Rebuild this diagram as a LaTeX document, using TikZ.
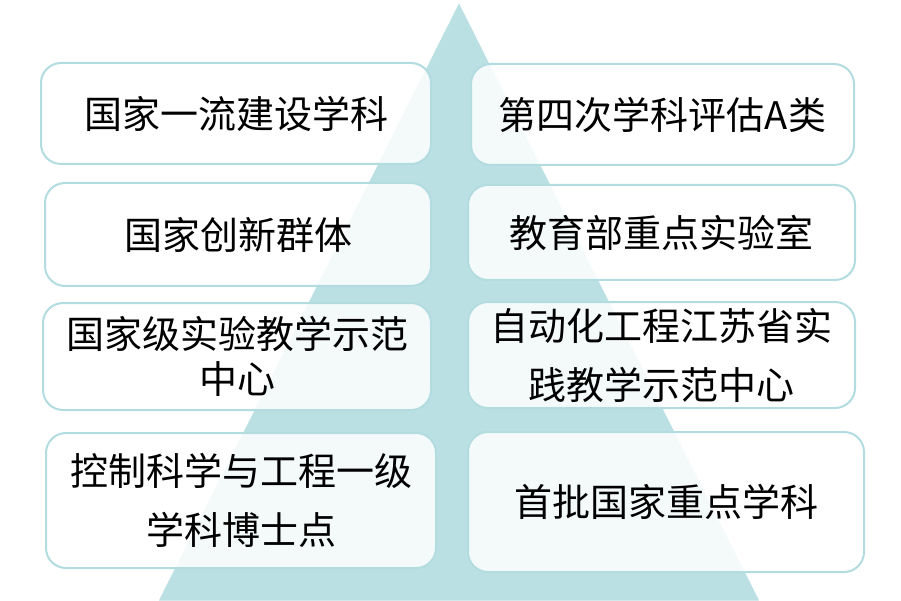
\documentclass[tikz,border=0pt]{standalone}
\usepackage{fontspec}
\newfontfamily\cjk{Noto Sans CJK SC}
\definecolor{tri}{HTML}{BAE0E3}
\definecolor{bord}{HTML}{B3DCE1}
\begin{document}
\begin{tikzpicture}[x=1pt,y=-1pt,
  card/.style={draw=bord, line width=2pt, fill=white, fill opacity=0.85, text opacity=1,
    rounded corners=20pt, inner sep=0pt, align=center, font=\cjk\fontsize{38}{45}\selectfont},
  tall/.style={font=\cjk\fontsize{38}{59}\selectfont}]
\useasboundingbox (0,0) rectangle (901,601);
\coordinate (apex) at (459,2);
\coordinate (bl) at (158,601);
\coordinate (br) at (760,601);
\draw[fill=tri, draw=white, line width=1pt] (apex) -- (bl) -- (br) -- cycle;
\node[card, minimum width=390pt, minimum height=101pt] (b1) at (236,113.5) {国家一流建设学科};
\node[card, minimum width=383pt, minimum height=101pt] (b2) at (662.5,114.5) {第四次学科评估A类};
\node[card, minimum width=386pt, minimum height=103pt] (b3) at (238,234.5) {国家创新群体};
\node[card, minimum width=387pt, minimum height=95pt] (b4) at (661.5,232.5) {教育部重点实验室};
\node[card, minimum width=388pt, minimum height=107pt] (b5) at (237,356.5) {国家级实验教学示范\\中心};
\node[card, tall, minimum width=387pt, minimum height=106pt] (b6) at (661.5,355) {自动化工程江苏省实\\践教学示范中心};
\node[card, tall, minimum width=390pt, minimum height=135pt] (b7) at (241,500.5) {控制科学与工程一级\\学科博士点};
\node[card, minimum width=396pt, minimum height=140pt] (b8) at (666,502) {首批国家重点学科};
\end{tikzpicture}
\end{document}
